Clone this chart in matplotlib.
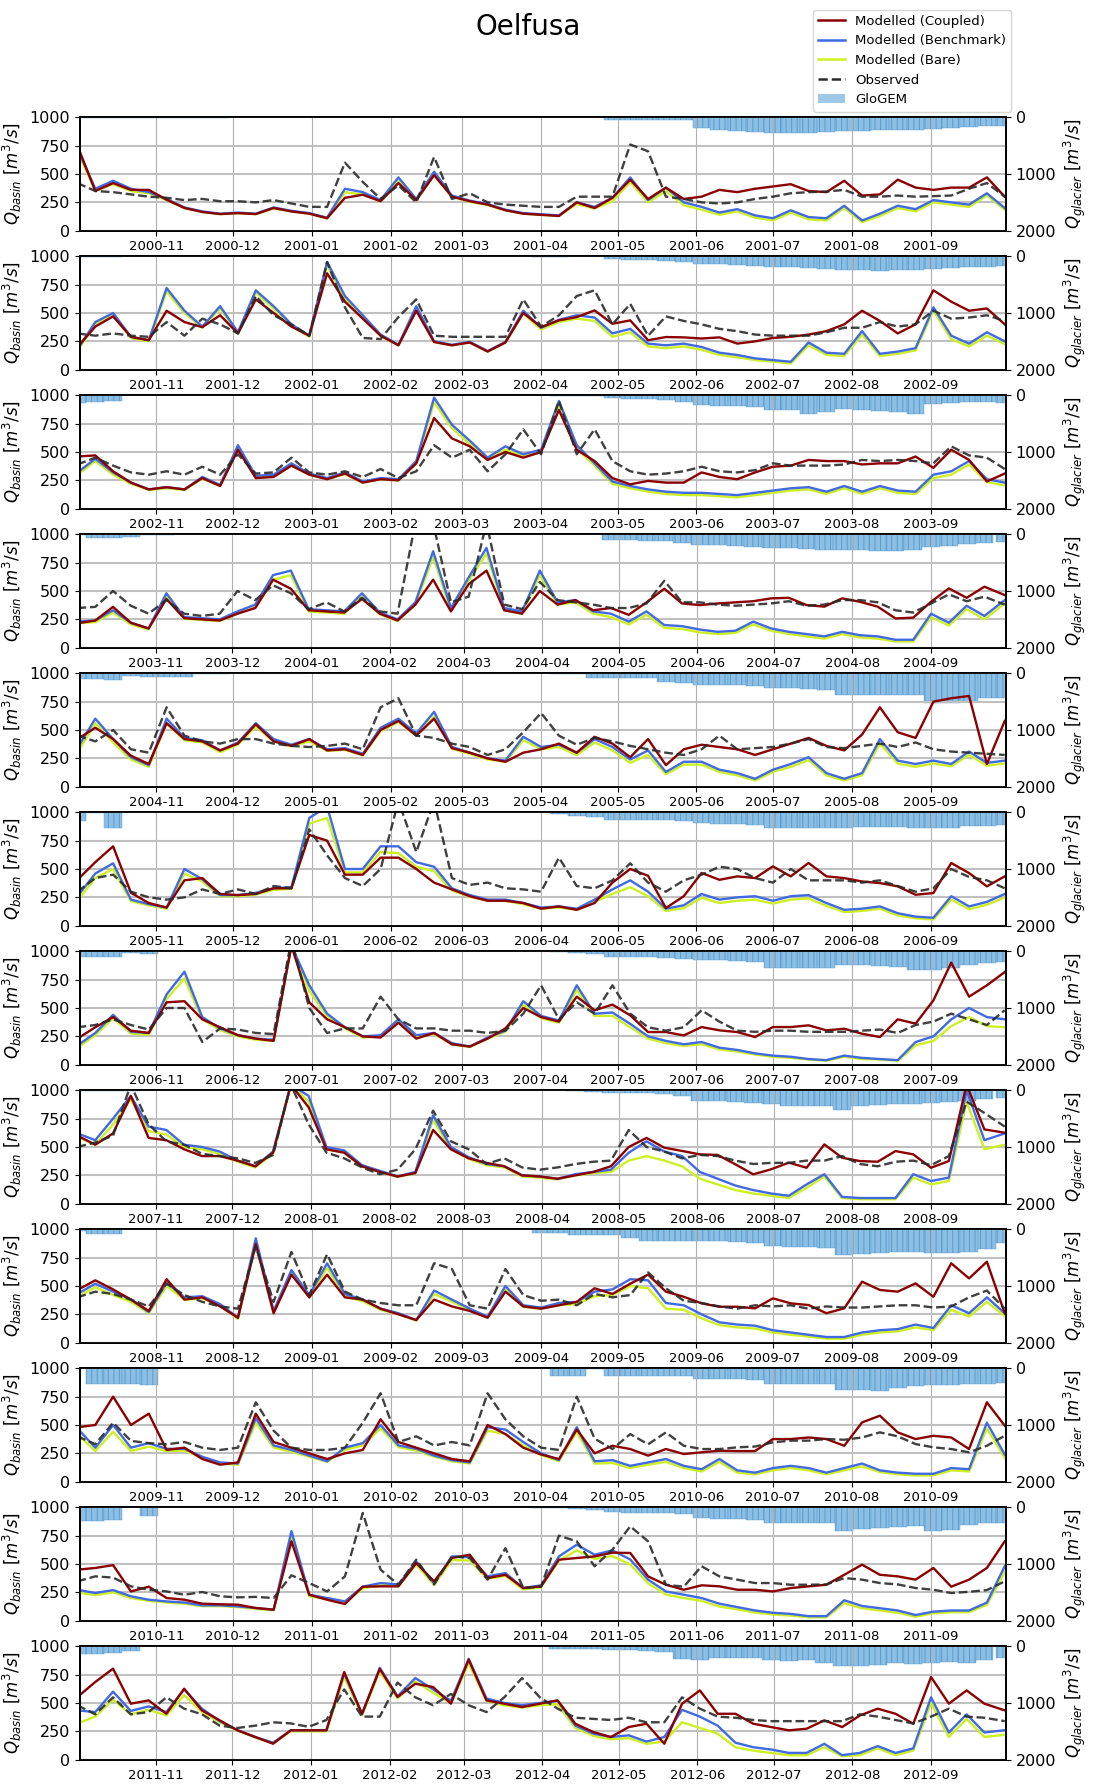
import datetime as dt
import matplotlib
matplotlib.use("Agg")
import matplotlib.pyplot as plt
import matplotlib.dates as mdates
from matplotlib.patches import Patch
from matplotlib.lines import Line2D

# hydrological years (Oct of previous year -> Sep), one panel each
years = [2001, 2002, 2003, 2004, 2005, 2006, 2007, 2008, 2009, 2010, 2011, 2012]

# weekly values, 53 per year (52 weeks from 1 Oct + 30 Sep)
coupled = [
    [750, 350, 420, 360, 360, 273, 200, 165, 147, 155,
     147, 200, 170, 150, 110, 290, 317, 260, 420, 270,
     490, 300, 260, 230, 180, 150, 140, 130, 250, 200,
     290, 450, 280, 380, 280, 300, 360, 340, 370, 390,
     410, 350, 340, 440, 310, 320, 450, 380, 360, 380,
     380, 470, 300],
    [200, 380, 470, 290, 260, 520, 420, 375, 480, 320,
     620, 500, 380, 300, 850, 600, 450, 300, 215, 520,
     244, 215, 240, 160, 240, 500, 376, 435, 464, 523,
     405, 435, 260, 288, 285, 275, 285, 230, 250, 280,
     290, 310, 340, 400, 520, 430, 320, 400, 700, 600,
     520, 540, 400],
    [460, 470, 330, 230, 170, 190, 170, 270, 200, 520,
     270, 280, 380, 300, 260, 310, 230, 260, 250, 400,
     800, 620, 550, 430, 500, 450, 500, 870, 520, 420,
     270, 215, 245, 230, 230, 320, 280, 260, 320, 370,
     380, 430, 420, 420, 390, 400, 400, 460, 360, 520,
     430, 240, 310],
    [215, 240, 360, 220, 170, 430, 260, 250, 240, 300,
     350, 600, 520, 330, 320, 310, 430, 300, 240, 380,
     600, 320, 560, 680, 330, 300, 500, 380, 420, 330,
     350, 290, 400, 520, 390, 376, 390, 400, 410, 435,
     440, 376, 362, 435, 405, 362, 258, 265, 405, 523,
     440, 538, 464],
    [420, 520, 420, 273, 200, 560, 420, 400, 320, 380,
     550, 400, 360, 420, 320, 330, 280, 500, 580, 450,
     600, 340, 300, 250, 220, 300, 330, 380, 300, 440,
     380, 260, 420, 190, 330, 370, 350, 330, 280, 330,
     380, 430, 360, 320, 460, 700, 480, 430, 750, 780,
     800, 200, 580],
    [405, 560, 700, 290, 200, 160, 400, 420, 280, 270,
     280, 330, 330, 800, 750, 450, 450, 600, 600, 500,
     380, 320, 260, 220, 220, 200, 150, 170, 140, 200,
     380, 500, 440, 156, 260, 465, 405, 435, 420, 523,
     435, 553, 435, 420, 390, 376, 347, 273, 288, 553,
     464, 347, 435],
    [230, 330, 420, 300, 280, 550, 560, 400, 330, 260,
     230, 210, 1050, 550, 400, 330, 250, 240, 370, 230,
     280, 180, 160, 230, 320, 500, 420, 380, 600, 480,
     530, 435, 288, 288, 258, 332, 303, 288, 244, 332,
     332, 347, 303, 317, 273, 244, 400, 362, 567, 900,
     600, 700, 817],
    [600, 520, 620, 950, 580, 560, 480, 420, 420, 380,
     330, 450, 1050, 850, 480, 450, 330, 280, 240, 270,
     650, 480, 400, 360, 330, 250, 240, 220, 250, 280,
     330, 500, 580, 494, 465, 435, 430, 347, 259, 303,
     362, 317, 523, 405, 376, 370, 464, 435, 317, 376,
     1050, 655, 626],
    [465, 550, 470, 380, 280, 560, 380, 400, 320, 220,
     870, 260, 600, 400, 600, 400, 380, 300, 250, 200,
     380, 320, 280, 220, 450, 320, 300, 330, 360, 480,
     430, 520, 600, 450, 405, 347, 317, 317, 303, 391,
     347, 332, 260, 303, 538, 465, 450, 523, 405, 700,
     567, 714, 260],
    [480, 500, 750, 500, 600, 280, 300, 200, 150, 170,
     600, 350, 300, 250, 200, 250, 280, 550, 350, 300,
     250, 200, 180, 500, 420, 300, 240, 200, 460, 250,
     317, 288, 230, 288, 244, 259, 273, 270, 270, 376,
     376, 390, 376, 317, 523, 582, 435, 376, 405, 390,
     288, 700, 494],
    [450, 465, 490, 258, 300, 200, 185, 150, 145, 141,
     112, 97, 700, 229, 185, 147, 300, 303, 303, 508,
     347, 553, 582, 376, 405, 288, 303, 538, 553, 567,
     600, 597, 391, 317, 273, 312, 303, 273, 273, 258,
     288, 303, 317, 405, 494, 405, 391, 362, 465, 300,
     362, 465, 700],
    [553, 685, 803, 494, 523, 405, 626, 435, 347, 259,
     200, 141, 259, 259, 259, 773, 405, 800, 553, 670,
     641, 494, 882, 523, 494, 464, 494, 523, 317, 244,
     200, 288, 317, 141, 494, 611, 405, 405, 317, 288,
     259, 273, 347, 288, 390, 450, 405, 317, 729, 494,
     611, 494, 435],
]

benchmark = [
    [720, 370, 440, 370, 340, 280, 205, 170, 150, 160,
     150, 205, 175, 155, 115, 370, 340, 270, 470, 280,
     520, 310, 265, 235, 185, 155, 145, 135, 250, 210,
     290, 470, 270, 380, 250, 210, 160, 190, 135, 110,
     180, 120, 110, 220, 90, 150, 220, 190, 270, 250,
     230, 330, 200],
    [180, 420, 500, 290, 260, 720, 520, 380, 560, 330,
     700, 560, 400, 300, 950, 650, 480, 310, 220, 560,
     250, 220, 245, 165, 245, 520, 370, 440, 480, 460,
     320, 360, 230, 215, 230, 200, 150, 130, 100, 85,
     70, 240, 150, 140, 340, 140, 160, 190, 550, 300,
     230, 330, 250],
    [320, 440, 320, 230, 170, 190, 170, 280, 210, 560,
     290, 300, 400, 310, 270, 320, 240, 270, 260, 420,
     980, 740, 600, 450, 550, 480, 520, 950, 560, 400,
     240, 200, 170, 150, 140, 140, 130, 120, 140, 160,
     180, 190, 150, 200, 150, 200, 160, 150, 300, 330,
     420, 260, 230],
    [230, 240, 330, 220, 170, 480, 270, 260, 250, 320,
     380, 640, 680, 340, 330, 320, 480, 310, 250, 400,
     850, 350, 620, 880, 350, 320, 680, 400, 420, 320,
     300, 230, 320, 200, 190, 160, 140, 150, 230, 170,
     140, 120, 100, 140, 110, 100, 70, 70, 300, 220,
     370, 280, 420],
    [340, 600, 420, 260, 190, 600, 430, 410, 320, 390,
     560, 420, 370, 420, 330, 340, 290, 520, 600, 470,
     660, 350, 300, 250, 230, 440, 350, 370, 300, 420,
     350, 240, 320, 130, 220, 220, 150, 120, 70, 150,
     200, 260, 120, 70, 120, 420, 230, 200, 230, 200,
     310, 210, 230],
    [260, 460, 550, 230, 190, 160, 500, 410, 270, 270,
     290, 330, 340, 950, 1050, 500, 500, 700, 700, 560,
     520, 330, 270, 230, 230, 200, 160, 170, 150, 230,
     320, 400, 300, 150, 180, 280, 230, 250, 260, 220,
     260, 270, 200, 140, 150, 170, 110, 80, 70, 260,
     170, 210, 280],
    [170, 280, 440, 290, 280, 620, 820, 420, 320, 260,
     230, 220, 1050, 700, 450, 330, 250, 260, 400, 260,
     280, 190, 160, 240, 300, 560, 430, 390, 700, 450,
     460, 360, 250, 210, 180, 200, 150, 130, 100, 80,
     70, 50, 40, 80, 60, 50, 40, 200, 250, 400,
     500, 420, 400],
    [620, 560, 750, 950, 680, 650, 520, 500, 460, 380,
     330, 460, 1050, 950, 500, 470, 340, 290, 240, 280,
     780, 500, 410, 350, 330, 250, 240, 220, 260, 280,
     300, 450, 550, 460, 420, 280, 220, 160, 120, 90,
     70, 170, 260, 60, 50, 50, 50, 260, 200, 230,
     1000, 560, 620],
    [430, 520, 450, 380, 270, 530, 400, 410, 340, 220,
     920, 280, 640, 420, 700, 430, 380, 300, 260, 200,
     460, 380, 300, 230, 500, 330, 310, 350, 360, 450,
     470, 560, 550, 350, 330, 250, 180, 160, 150, 110,
     90, 70, 50, 50, 90, 110, 120, 160, 130, 330,
     260, 400, 260],
    [470, 300, 500, 300, 340, 290, 290, 220, 170, 160,
     560, 320, 280, 230, 180, 300, 340, 500, 320, 290,
     230, 190, 170, 480, 460, 350, 250, 190, 480, 180,
     190, 140, 170, 200, 140, 110, 200, 100, 80, 120,
     140, 120, 80, 120, 160, 100, 80, 70, 70, 120,
     110, 520, 240],
    [273, 244, 270, 215, 185, 170, 160, 135, 135, 126,
     112, 97, 790, 229, 200, 170, 300, 332, 320, 523,
     330, 567, 560, 391, 420, 288, 312, 567, 670, 582,
     620, 540, 362, 258, 229, 200, 150, 120, 90, 70,
     60, 40, 40, 180, 130, 110, 90, 50, 80, 90,
     90, 160, 480],
    [435, 420, 600, 430, 470, 420, 620, 450, 340, 260,
     200, 150, 260, 260, 260, 760, 400, 810, 560, 720,
     620, 520, 890, 540, 500, 480, 500, 520, 300, 230,
     200, 215, 160, 200, 440, 380, 300, 150, 110, 90,
     60, 60, 140, 40, 60, 120, 60, 100, 550, 240,
     400, 240, 260],
]

bare = [
    [700, 350, 410, 350, 330, 270, 200, 165, 145, 155,
     145, 195, 170, 150, 110, 340, 320, 260, 440, 270,
     490, 300, 255, 225, 180, 150, 140, 130, 235, 195,
     260, 430, 250, 350, 225, 185, 140, 170, 115, 90,
     160, 100, 90, 200, 75, 130, 200, 170, 250, 230,
     210, 310, 185],
    [165, 400, 480, 280, 250, 690, 500, 370, 540, 320,
     680, 540, 390, 290, 920, 630, 465, 300, 215, 530,
     245, 215, 240, 160, 240, 495, 355, 420, 450, 430,
     290, 330, 205, 190, 205, 175, 130, 110, 85, 70,
     55, 215, 130, 120, 310, 120, 140, 170, 520, 270,
     205, 300, 225],
    [300, 420, 300, 220, 165, 180, 165, 265, 200, 530,
     275, 285, 380, 300, 260, 305, 230, 260, 250, 400,
     940, 710, 570, 430, 520, 460, 500, 910, 530, 380,
     220, 180, 150, 130, 120, 120, 110, 100, 120, 140,
     160, 170, 130, 180, 130, 180, 140, 130, 270, 300,
     390, 235, 205],
    [215, 225, 310, 205, 160, 450, 255, 245, 235, 300,
     355, 600, 640, 320, 310, 300, 450, 295, 235, 380,
     800, 330, 590, 830, 330, 300, 640, 380, 400, 300,
     270, 205, 290, 175, 165, 135, 120, 130, 205, 150,
     120, 100, 80, 120, 90, 80, 55, 55, 270, 195,
     340, 250, 390],
    [300, 560, 390, 240, 175, 560, 410, 390, 305, 370,
     530, 400, 355, 400, 315, 325, 275, 490, 570, 450,
     620, 335, 290, 240, 220, 410, 330, 350, 280, 390,
     320, 210, 280, 110, 195, 195, 130, 100, 55, 130,
     175, 235, 100, 55, 100, 380, 205, 175, 205, 180,
     280, 185, 205],
    [220, 420, 500, 215, 180, 150, 460, 390, 260, 260,
     275, 315, 325, 900, 950, 470, 470, 650, 640, 520,
     480, 310, 255, 220, 220, 190, 150, 160, 140, 210,
     280, 340, 260, 130, 155, 245, 200, 220, 230, 195,
     230, 240, 175, 120, 130, 150, 90, 65, 55, 230,
     145, 185, 250],
    [150, 260, 410, 275, 265, 580, 760, 400, 305, 250,
     220, 210, 1050, 650, 430, 320, 240, 250, 380, 250,
     270, 180, 155, 230, 290, 530, 410, 370, 660, 430,
     430, 330, 230, 190, 165, 180, 135, 115, 90, 70,
     60, 45, 35, 70, 50, 45, 35, 170, 210, 340,
     420, 340, 330],
    [590, 520, 700, 920, 640, 610, 500, 480, 440, 370,
     320, 440, 1050, 900, 480, 450, 330, 280, 235, 270,
     740, 480, 395, 340, 320, 240, 230, 215, 250, 270,
     280, 380, 420, 380, 330, 220, 170, 120, 90, 70,
     50, 140, 240, 50, 40, 40, 40, 230, 170, 200,
     900, 480, 520],
    [400, 490, 420, 360, 260, 500, 380, 390, 325, 210,
     880, 265, 610, 400, 660, 410, 365, 290, 250, 195,
     430, 360, 290, 225, 470, 315, 300, 335, 340, 410,
     420, 500, 480, 300, 290, 215, 155, 135, 125, 90,
     70, 55, 35, 35, 70, 90, 100, 135, 110, 290,
     230, 360, 235],
    [420, 270, 440, 270, 310, 270, 275, 210, 160, 150,
     520, 300, 265, 220, 175, 280, 320, 470, 305, 275,
     220, 180, 160, 450, 420, 320, 235, 180, 440, 160,
     165, 120, 150, 175, 120, 90, 175, 80, 65, 100,
     120, 100, 65, 100, 135, 85, 65, 55, 55, 100,
     90, 470, 210],
    [250, 225, 250, 200, 175, 160, 150, 128, 128, 120,
     105, 92, 740, 215, 190, 160, 285, 315, 305, 495,
     315, 535, 530, 370, 395, 275, 295, 530, 620, 545,
     570, 495, 330, 230, 200, 175, 125, 100, 72, 55,
     45, 30, 30, 155, 110, 90, 70, 35, 65, 75,
     75, 140, 430],
    [320, 380, 530, 400, 440, 390, 570, 420, 330, 255,
     195, 145, 250, 250, 250, 730, 390, 780, 540, 690,
     590, 500, 850, 520, 480, 460, 480, 490, 280, 210,
     180, 190, 140, 160, 330, 280, 230, 110, 80, 60,
     40, 40, 110, 30, 40, 100, 40, 80, 500, 200,
     360, 200, 220],
]

observed = [
    [420, 350, 340, 320, 300, 290, 270, 280, 260, 260,
     250, 270, 240, 210, 210, 600, 430, 280, 400, 250,
     650, 280, 330, 250, 230, 220, 210, 210, 300, 300,
     300, 760, 700, 300, 280, 250, 240, 250, 280, 300,
     330, 340, 345, 360, 300, 300, 310, 300, 305, 310,
     370, 420, 300],
    [320, 300, 320, 300, 290, 420, 300, 450, 400, 320,
     650, 480, 400, 300, 950, 550, 280, 270, 465, 620,
     300, 290, 290, 290, 290, 620, 380, 480, 650, 700,
     400, 580, 300, 470, 430, 400, 360, 340, 310, 300,
     300, 300, 330, 370, 370, 420, 380, 400, 520, 450,
     460, 480, 430],
    [390, 450, 380, 320, 300, 330, 300, 370, 300, 480,
     310, 320, 450, 320, 300, 330, 280, 350, 270, 330,
     560, 450, 520, 330, 480, 700, 480, 950, 480, 700,
     420, 330, 300, 310, 330, 370, 330, 320, 340, 400,
     380, 380, 380, 390, 430, 420, 430, 420, 400, 550,
     470, 450, 350],
    [350, 360, 500, 370, 300, 420, 300, 280, 300, 500,
     420, 550, 480, 340, 400, 320, 440, 320, 300, 1100,
     1100, 400, 450, 1100, 380, 340, 580, 420, 400, 380,
     350, 350, 390, 590, 400, 400, 380, 370, 380, 390,
     410, 370, 380, 420, 420, 400, 330, 310, 390, 470,
     410, 450, 380],
    [450, 400, 500, 330, 300, 700, 450, 400, 380, 420,
     420, 380, 360, 350, 360, 380, 330, 700, 780, 450,
     430, 380, 350, 280, 330, 480, 650, 450, 370, 430,
     400, 360, 330, 300, 280, 330, 450, 330, 340, 350,
     380, 420, 350, 340, 360, 380, 350, 390, 330, 310,
     300, 290, 280],
    [300, 420, 450, 300, 250, 230, 250, 320, 280, 320,
     280, 350, 330, 850, 620, 420, 350, 500, 1100, 650,
     1100, 420, 360, 380, 330, 320, 300, 600, 350, 330,
     400, 550, 380, 300, 400, 450, 520, 500, 420, 380,
     500, 400, 400, 400, 380, 400, 350, 300, 330, 500,
     430, 400, 330],
    [330, 350, 400, 350, 310, 500, 500, 200, 320, 310,
     280, 270, 1100, 500, 280, 320, 320, 600, 400, 320,
     320, 300, 300, 280, 300, 450, 700, 400, 550, 450,
     700, 450, 330, 300, 330, 480, 380, 300, 290, 300,
     300, 290, 290, 290, 300, 310, 280, 350, 380, 450,
     400, 350, 480],
    [500, 540, 600, 1050, 700, 550, 520, 440, 420, 400,
     360, 430, 1050, 700, 450, 400, 320, 260, 300, 480,
     820, 550, 480, 350, 400, 320, 300, 320, 350, 370,
     380, 650, 500, 460, 400, 430, 420, 380, 350, 360,
     360, 380, 380, 420, 350, 330, 370, 380, 340, 420,
     900, 800, 680],
    [400, 450, 430, 380, 320, 520, 420, 360, 320, 300,
     850, 360, 800, 420, 780, 450, 380, 350, 330, 330,
     700, 650, 330, 300, 650, 420, 370, 380, 330, 430,
     400, 420, 620, 480, 370, 350, 320, 300, 330, 320,
     330, 300, 320, 310, 310, 320, 330, 330, 310, 320,
     400, 460, 300],
    [400, 330, 520, 360, 340, 330, 350, 300, 280, 300,
     700, 450, 300, 280, 280, 300, 520, 780, 350, 400,
     320, 350, 320, 780, 550, 400, 300, 280, 750, 380,
     288, 420, 330, 435, 317, 288, 288, 303, 310, 347,
     362, 362, 376, 370, 390, 435, 400, 332, 303, 288,
     259, 317, 405],
    [347, 391, 380, 303, 273, 258, 229, 253, 215, 206,
     210, 200, 400, 332, 258, 391, 950, 450, 317, 538,
     320, 567, 553, 362, 640, 288, 300, 750, 700, 480,
     626, 832, 700, 317, 300, 480, 391, 362, 332, 332,
     317, 317, 320, 376, 362, 332, 320, 288, 273, 244,
     255, 270, 347],
    [480, 400, 550, 400, 420, 550, 450, 400, 300, 280,
     300, 330, 320, 290, 350, 620, 380, 380, 680, 550,
     480, 580, 480, 420, 550, 720, 550, 450, 370, 360,
     350, 370, 330, 330, 550, 450, 380, 370, 350, 340,
     340, 340, 340, 340, 400, 380, 350, 320, 380, 450,
     380, 370, 340],
]

glogem = [
    [15, 15, 15, 15, 10, 10, 5, 5, 5, 0,
     0, 0, 0, 0, 0, 0, 0, 0, 0, 0,
     0, 0, 0, 0, 0, 0, 0, 0, 0, 0,
     50, 50, 50, 50, 50, 180, 220, 250, 260, 280,
     280, 270, 260, 250, 240, 230, 230, 220, 200, 180,
     170, 160, 150],
    [20, 20, 10, 0, 0, 0, 0, 0, 0, 0,
     0, 0, 0, 0, 0, 0, 0, 0, 0, 0,
     0, 0, 0, 0, 0, 0, 10, 5, 0, 0,
     40, 60, 70, 80, 100, 130, 140, 150, 170, 180,
     190, 200, 220, 240, 250, 260, 250, 240, 230, 200,
     190, 180, 170],
    [130, 120, 100, 0, 0, 0, 0, 0, 0, 0,
     0, 0, 0, 0, 0, 0, 0, 0, 0, 0,
     0, 0, 0, 0, 0, 0, 0, 10, 10, 10,
     50, 60, 70, 80, 120, 170, 180, 190, 200, 260,
     260, 330, 300, 250, 260, 270, 300, 330, 150, 130,
     120, 120, 130],
    [20, 60, 60, 50, 20, 10, 0, 0, 0, 0,
     0, 0, 0, 0, 0, 0, 0, 0, 0, 0,
     0, 0, 0, 0, 0, 0, 0, 0, 0, 0,
     100, 100, 110, 120, 150, 190, 190, 200, 220, 240,
     250, 260, 270, 280, 280, 290, 290, 270, 230, 200,
     170, 150, 140],
    [100, 100, 110, 40, 60, 60, 60, 20, 20, 0,
     0, 0, 0, 0, 0, 0, 0, 0, 0, 0,
     0, 0, 0, 0, 0, 0, 0, 10, 20, 80,
     80, 80, 90, 150, 175, 200, 200, 210, 230, 260,
     260, 270, 290, 376, 376, 380, 380, 380, 530, 530,
     500, 435, 440],
    [160, 10, 270, 0, 0, 0, 0, 0, 0, 0,
     0, 0, 0, 0, 0, 0, 0, 0, 0, 0,
     0, 0, 0, 0, 0, 0, 0, 30, 60, 80,
     130, 130, 130, 140, 150, 190, 200, 210, 230, 280,
     280, 280, 270, 270, 260, 260, 260, 270, 280, 270,
     250, 240, 230],
    [100, 100, 100, 30, 40, 0, 0, 0, 0, 0,
     0, 0, 0, 0, 0, 0, 0, 0, 0, 0,
     0, 0, 0, 0, 0, 0, 0, 20, 30, 50,
     100, 100, 100, 110, 130, 160, 160, 170, 180, 290,
     290, 300, 290, 250, 250, 260, 280, 330, 330, 300,
     250, 200, 180],
    [10, 10, 10, 10, 0, 0, 0, 0, 0, 0,
     0, 0, 0, 0, 0, 0, 0, 0, 0, 0,
     0, 0, 0, 0, 0, 0, 0, 0, 20, 30,
     40, 40, 50, 60, 100, 180, 190, 200, 220, 250,
     270, 280, 280, 350, 280, 260, 250, 240, 230, 200,
     180, 150, 130],
    [30, 80, 80, 0, 0, 0, 0, 0, 0, 0,
     0, 0, 0, 0, 0, 0, 0, 0, 0, 0,
     0, 0, 0, 0, 0, 0, 70, 70, 100, 100,
     100, 150, 200, 200, 200, 200, 210, 220, 250, 300,
     305, 310, 330, 450, 440, 420, 400, 400, 420, 420,
     400, 350, 250],
    [0, 280, 280, 270, 300, 0, 0, 0, 0, 0,
     0, 0, 0, 0, 0, 0, 0, 0, 0, 0,
     0, 0, 0, 0, 0, 0, 0, 130, 130, 20,
     130, 130, 130, 130, 140, 190, 190, 190, 200, 270,
     276, 280, 280, 390, 390, 394, 350, 320, 300, 290,
     280, 270, 260],
    [240, 240, 230, 0, 160, 0, 0, 0, 0, 0,
     0, 0, 0, 0, 0, 0, 0, 0, 0, 0,
     0, 0, 0, 0, 0, 0, 10, 20, 30, 40,
     80, 100, 100, 100, 110, 190, 200, 210, 220, 276,
     276, 270, 280, 420, 380, 370, 350, 330, 420, 400,
     305, 280, 270],
    [130, 130, 120, 80, 0, 0, 0, 0, 0, 0,
     0, 0, 0, 0, 0, 0, 0, 0, 0, 0,
     0, 0, 0, 0, 0, 0, 0, 40, 40, 50,
     60, 70, 80, 100, 230, 240, 200, 200, 200, 240,
     260, 250, 300, 350, 340, 330, 300, 320, 300, 280,
     300, 250, 200],
]

for name, series in [('coupled', coupled), ('benchmark', benchmark), ('bare', bare),
                     ('observed', observed), ('glogem', glogem)]:
    for k, row in enumerate(series):
        assert len(row) == 53, (name, years[k], len(row))


def week_dates(yr):
    start = dt.datetime(yr - 1, 10, 1)
    d = [start + dt.timedelta(days=7 * i) for i in range(52)]
    d.append(dt.datetime(yr, 9, 30))
    return d


c_coupled = '#8b0000'
c_bench = '#4169e1'
c_bare = '#cdf022'
c_obs = '#2b2b2b'
c_glo_face = '#8cbfe3'
c_glo_edge = '#5a9ccf'

plt.rcParams['hatch.linewidth'] = 0.7

W, H = 1093, 1787
fig = plt.figure(figsize=(W / 100, H / 100), dpi=100)

ax_l, ax_w = 80 / W, 926 / W
ax_h = 113.4 / H

for i, yr in enumerate(years):
    top = 117.3 + 139 * i
    ax = fig.add_axes([ax_l, 1 - (top + 113.4) / H, ax_w, ax_h])
    ax2 = ax.twinx()
    dates = week_dates(yr)

    # glacier runoff hangs from the top of the inverted right axis
    ax2.bar(dates, glogem[i], width=7, facecolor=c_glo_face,
            edgecolor=c_glo_edge, hatch='|||', linewidth=0.3)
    ax2.set_ylim(2000, 0)
    ax2.set_yticks([0, 1000, 2000])
    ax2.set_ylabel('$Q_{glacier}$ [$m^3/s$]', fontsize=12)
    ax2.tick_params(axis='y', labelsize=11.5)

    ax.plot(dates, bare[i], color=c_bare, lw=1.7)
    ax.plot(dates, benchmark[i], color=c_bench, lw=1.7)
    ax.plot(dates, coupled[i], color=c_coupled, lw=1.7)
    ax.plot(dates, observed[i], color=c_obs, lw=1.7, ls='--', alpha=0.9)

    ax.set_zorder(ax2.get_zorder() + 1)
    ax.patch.set_visible(False)

    ax.set_ylim(0, 1000)
    ax.set_yticks([0, 250, 500, 750, 1000])
    ax.set_xlim(dt.datetime(yr - 1, 10, 2), dt.datetime(yr, 9, 30, 12))
    ax.xaxis.set_major_locator(mdates.MonthLocator())
    ax.xaxis.set_major_formatter(mdates.DateFormatter('%Y-%m'))
    ax.tick_params(axis='x', labelsize=9.5)
    ax.tick_params(axis='y', labelsize=11.5)
    ax.set_ylabel('$Q_{basin}$ [$m^3/s$]', fontsize=12)

    ax.grid(True, axis='x', color='#b0b0b0', lw=0.8)
    ax.grid(True, axis='y', color='#c0c0c0', lw=1.5)
    for a in (ax, ax2):
        for sp in a.spines.values():
            sp.set_linewidth(1.3)

handles = [
    Line2D([], [], color=c_coupled, lw=1.8),
    Line2D([], [], color=c_bench, lw=1.8),
    Line2D([], [], color=c_bare, lw=1.8),
    Line2D([], [], color=c_obs, lw=1.8, ls='--'),
    Patch(facecolor='#9ec8e6'),
]
labels = ['Modelled (Coupled)', 'Modelled (Benchmark)', 'Modelled (Bare)',
          'Observed', 'GloGEM']
fig.legend(handles, labels, loc='upper right', fontsize=9.5,
           bbox_to_anchor=(1018 / W, 1 - 3 / H))

fig.text(0.483, 1 - 27 / H, 'Oelfusa', ha='center', va='center', fontsize=20)

fig.savefig('out.png', dpi=100)
